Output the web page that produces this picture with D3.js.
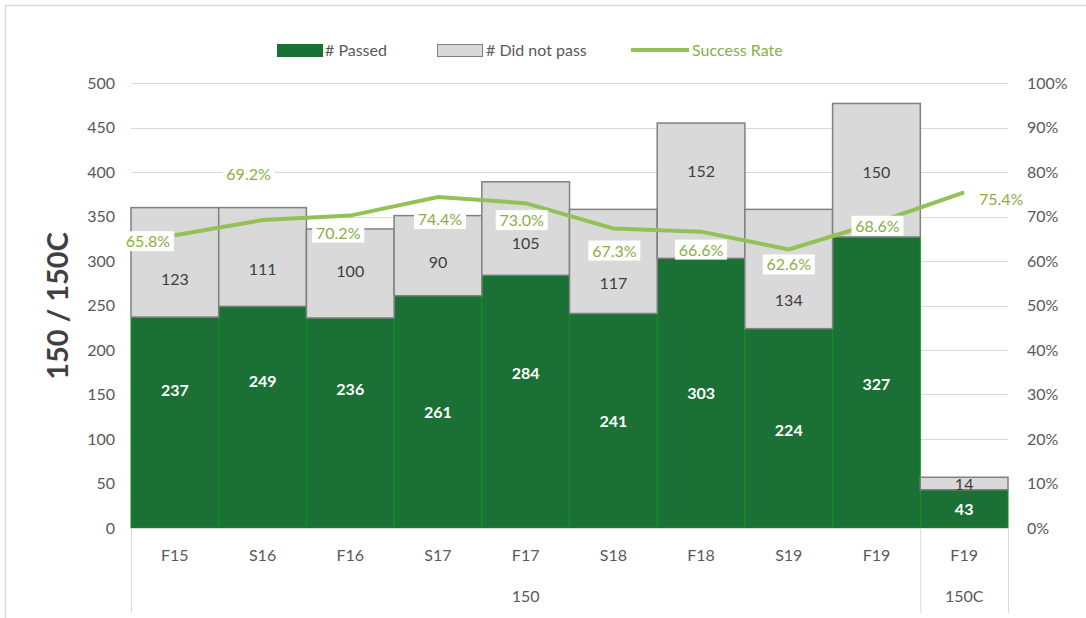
<!DOCTYPE html>
<html>
<head>
<meta charset="utf-8">
<script src="https://cdn.jsdelivr.net/npm/d3@7"></script>
<style>
  body { margin: 0; background: #fff; }
  text { font-family: Lato, "Open Sans", sans-serif; }
</style>
</head>
<body>
<svg id="chart" width="1086" height="618"></svg>
<script>
// data
const terms = ['F15', 'S16', 'F16', 'S17', 'F17', 'S18', 'F18', 'S19', 'F19', 'F19'];
const courses = ['150', '150', '150', '150', '150', '150', '150', '150', '150', '150C'];
const passed = [237, 249, 236, 261, 284, 241, 303, 224, 327, 43];
const notPassed = [123, 111, 100, 90, 105, 117, 152, 134, 150, 14];
const successRate = [65.8, 69.2, 70.2, 74.4, 73.0, 67.3, 66.6, 62.6, 68.6, 75.4];
const countTicks = [0, 50, 100, 150, 200, 250, 300, 350, 400, 450, 500];
const rateTicks = [0, 10, 20, 30, 40, 50, 60, 70, 80, 90, 100];

// label nudges (layout only, the labels were hand-moved in the original)
const rateLabelShift = [[-27, 6], [-14, -46], [-12, 17], [2, 22], [-4, 17], [1, 22], [0, 18], [0, 15], [1, 3], [37, 7]];
const passedLabelShift = [-33, -36, -34, 0, -29, 0, 0, 2, 2, 0];
const failLabelShift = [17, 12, -2, 6, 14, 22, -20, 31, 2, 0];

const svg = d3.select('#chart');
const plotLeft = 131, plotRight = 1008, plotTop = 83, plotBottom = 528;

const idx = d3.range(terms.length);
const x = d3.scaleBand().domain(idx).range([plotLeft, plotRight]).padding(0);
const y = d3.scaleLinear().domain([0, 500]).range([plotBottom, plotTop]);
const yr = d3.scaleLinear().domain([0, 100]).range([plotBottom, plotTop]);

// chart border (only top/left visible)
svg.append('rect')
  .attr('x', 5.5).attr('y', 5.5).attr('width', 1200).attr('height', 800)
  .attr('fill', 'none').attr('stroke', '#d9d9d9').attr('stroke-width', 1.5);

// gridlines
svg.append('g')
  .selectAll('line')
  .data(countTicks.slice(1))
  .join('line')
    .attr('x1', plotLeft).attr('x2', plotRight)
    .attr('y1', d => Math.round(y(d)) + 0.5).attr('y2', d => Math.round(y(d)) + 0.5)
    .attr('stroke', '#d9d9d9');

// left axis
const yAxis = svg.append('g')
  .attr('transform', `translate(${plotLeft - 16},0)`)
  .call(d3.axisLeft(y).tickValues(countTicks).tickSize(0).tickPadding(0));
yAxis.select('.domain').remove();
yAxis.selectAll('text').attr('fill', '#595959').style('font-size', '16px');

// right axis
const yrAxis = svg.append('g')
  .attr('transform', `translate(${plotRight + 19},0)`)
  .call(d3.axisRight(yr).tickValues(rateTicks).tickSize(0).tickPadding(0).tickFormat(d => d + '%'));
yrAxis.select('.domain').remove();
yrAxis.selectAll('text').attr('fill', '#595959').style('font-size', '16px');

// y title
svg.append('text')
  .attr('transform', 'translate(68,306) rotate(-90)')
  .attr('text-anchor', 'middle')
  .attr('fill', '#404040')
  .style('font-size', '29px').style('font-weight', 'bold')
  .text('150 / 150C');

// passed bars
svg.append('g')
  .selectAll('rect')
  .data(idx)
  .join('rect')
    .attr('x', i => x(i)).attr('width', x.bandwidth())
    .attr('y', i => y(passed[i])).attr('height', i => y(0) - y(passed[i]))
    .attr('fill', '#1a7035').attr('stroke', '#11901f').attr('stroke-width', 1);

// did-not-pass bars
svg.append('g')
  .selectAll('rect')
  .data(idx)
  .join('rect')
    .attr('x', i => x(i)).attr('width', x.bandwidth())
    .attr('y', i => y(passed[i] + notPassed[i])).attr('height', i => y(0) - y(notPassed[i]))
    .attr('fill', '#d9d9d9').attr('stroke', '#808080').attr('stroke-width', 1.5);

// bar labels
svg.append('g')
  .selectAll('text')
  .data(idx)
  .join('text')
    .attr('x', i => x(i) + x.bandwidth() / 2)
    .attr('y', i => (y(0) + y(passed[i])) / 2 + 6 + passedLabelShift[i])
    .attr('text-anchor', 'middle')
    .attr('fill', '#fff').style('font-size', '16px').style('font-weight', 'bold')
    .text(i => passed[i]);

svg.append('g')
  .selectAll('text')
  .data(idx)
  .join('text')
    .attr('x', i => x(i) + x.bandwidth() / 2)
    .attr('y', i => (y(passed[i]) + y(passed[i] + notPassed[i])) / 2 + 6 + failLabelShift[i])
    .attr('text-anchor', 'middle')
    .attr('fill', '#404040').style('font-size', '16px')
    .text(i => notPassed[i]);

// x axis line and separators
svg.append('line')
  .attr('x1', plotLeft).attr('x2', plotRight).attr('y1', plotBottom + 0.5).attr('y2', plotBottom + 0.5)
  .attr('stroke', '#d9d9d9');
const groupEdges = [0, courses.indexOf('150C'), terms.length];
svg.append('g')
  .selectAll('line')
  .data(groupEdges)
  .join('line')
    .attr('x1', i => (i < terms.length ? x(i) : plotRight) + 0.5)
    .attr('x2', i => (i < terms.length ? x(i) : plotRight) + 0.5)
    .attr('y1', plotBottom).attr('y2', 613)
    .attr('stroke', '#d9d9d9');

// category labels
svg.append('g')
  .selectAll('text')
  .data(idx)
  .join('text')
    .attr('x', i => x(i) + x.bandwidth() / 2)
    .attr('y', 561)
    .attr('text-anchor', 'middle')
    .attr('fill', '#595959').style('font-size', '16px')
    .text(i => terms[i]);

// group labels
const groups = Array.from(d3.group(idx, i => courses[i]), ([k, v]) => ({k, v}));
svg.append('g')
  .selectAll('text')
  .data(groups)
  .join('text')
    .attr('x', g => (x(g.v[0]) + x(g.v[g.v.length - 1]) + x.bandwidth()) / 2)
    .attr('y', 602)
    .attr('text-anchor', 'middle')
    .attr('fill', '#595959').style('font-size', '16px')
    .text(g => g.k);

// success rate line
const line = d3.line()
  .x(i => x(i) + x.bandwidth() / 2)
  .y(i => yr(successRate[i]));
svg.append('path')
  .datum(idx)
  .attr('d', line)
  .attr('fill', 'none')
  .attr('stroke', '#94c155')
  .attr('stroke-width', 4);

// rate labels with white background
const rl = svg.append('g')
  .selectAll('g')
  .data(idx)
  .join('g')
    .attr('transform', i => `translate(${x(i) + x.bandwidth() / 2 + rateLabelShift[i][0]},${yr(successRate[i]) + rateLabelShift[i][1]})`);
rl.append('rect')
  .attr('x', -26).attr('y', -10).attr('width', 52).attr('height', 20)
  .attr('fill', '#fff');
rl.append('text')
  .attr('text-anchor', 'middle')
  .attr('y', 6)
  .attr('fill', '#8aad45').style('font-size', '16px')
  .text(i => successRate[i].toFixed(1) + '%');

// legend
const legend = svg.append('g');
legend.append('rect').attr('x', 277).attr('y', 44).attr('width', 46).attr('height', 13).attr('fill', '#1a7035');
legend.append('text').attr('x', 325).attr('y', 56).attr('fill', '#595959').style('font-size', '16px').text('# Passed');
legend.append('rect').attr('x', 437.5).attr('y', 44.5).attr('width', 45).attr('height', 12).attr('fill', '#d9d9d9').attr('stroke', '#808080');
legend.append('text').attr('x', 486).attr('y', 56).attr('fill', '#595959').style('font-size', '16px').text('# Did not pass');
legend.append('line').attr('x1', 631).attr('x2', 689).attr('y1', 50).attr('y2', 50).attr('stroke', '#94c155').attr('stroke-width', 4);
legend.append('text').attr('x', 692).attr('y', 56).attr('fill', '#8aad45').style('font-size', '16px').text('Success Rate');
</script>
</body>
</html>
